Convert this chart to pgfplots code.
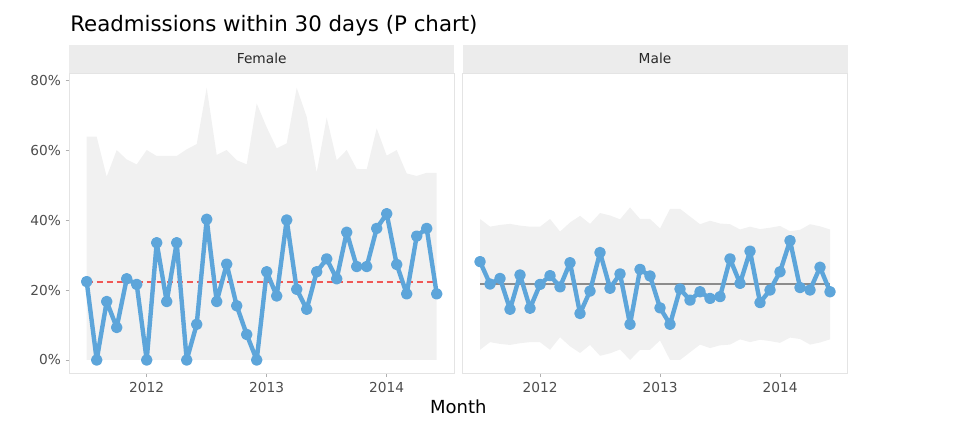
\documentclass[border=0pt]{standalone}
\usepackage{fontspec}
\setmainfont{DejaVu Sans}
\usepackage{pgfplots}
\pgfplotsset{compat=1.18}
\usepackage{pgfplotstable}
\usepgfplotslibrary{fillbetween}
\definecolor{pblue}{RGB}{93,165,218}
\definecolor{cred}{RGB}{240,88,86}
\definecolor{cgray}{RGB}{140,140,140}
\definecolor{ribbon}{RGB}{241,241,241}
\definecolor{stripfill}{RGB}{236,236,236}
\definecolor{panelborder}{RGB}{228,228,228}
\definecolor{tickgray}{RGB}{175,175,175}
\definecolor{ticktext}{RGB}{77,77,77}
\definecolor{striptext}{RGB}{40,40,40}

\pgfplotstableread{
i p ucl lcl
0 22.4 63.8 0
1 0 63.8 0
2 16.7 52.4 0
3 9.3 60.0 0
4 23.2 57.3 0
5 21.6 55.9 0
6 0 60.0 0
7 33.5 58.3 0
8 16.7 58.3 0
9 33.5 58.3 0
10 0 60.2 0
11 10.2 61.7 0
12 40.2 77.8 0
13 16.7 58.6 0
14 27.4 60.0 0
15 15.5 57.1 0
16 7.3 55.9 0
17 0 73.3 0
18 25.2 66.5 0
19 18.3 60.5 0
20 40.0 61.9 0
21 20.2 77.8 0
22 14.5 69.5 0
23 25.2 53.6 0
24 28.9 69.3 0
25 23.2 57.1 0
26 36.5 60.0 0
27 26.7 54.6 0
28 26.7 54.5 0
29 37.6 66.2 0
30 41.8 58.4 0
31 27.3 60.0 0
32 18.9 53.3 0
33 35.4 52.6 0
34 37.6 53.5 0
35 18.9 53.5 0
}\female

\pgfplotstableread{
i p ucl lcl
0 28.1 40.3 2.9
1 21.7 38.1 5.1
2 23.3 38.6 4.6
3 14.5 38.9 4.3
4 24.3 38.4 4.8
5 14.8 38.1 5.1
6 21.6 38.1 5.1
7 24.1 40.3 2.9
8 20.9 36.7 6.5
9 27.8 39.3 3.9
10 13.3 41.2 2.0
11 19.7 38.9 4.3
12 30.7 42.0 1.2
13 20.5 41.3 1.9
14 24.6 40.2 3.0
15 10.2 43.6 0
16 25.9 40.3 2.9
17 24.0 40.3 2.9
18 14.9 37.6 5.6
19 10.2 43.2 0
20 20.3 43.2 0
21 17.1 41.0 2.2
22 19.5 38.8 4.4
23 17.6 39.8 3.4
24 18.1 39.0 4.2
25 28.9 38.8 4.4
26 21.9 37.3 5.9
27 31.1 38.1 5.1
28 16.4 37.4 5.8
29 20.0 37.8 5.4
30 25.2 38.3 4.9
31 34.1 36.8 6.4
32 20.7 37.2 6.0
33 20.0 38.8 4.4
34 26.5 38.2 5.0
35 19.5 37.3 5.9
}\male

\pgfplotsset{pchart/.style={
  scale only axis, width=288.75pt, height=225.2pt,
  anchor=south west,
  xmin=-1.75, xmax=36.75, ymin=-3.9, ymax=81.9,
  axis line style={draw=panelborder, line width=0.6pt},
  xtick={6,18,30}, xticklabels={2012,2013,2014},
  xtick pos=bottom, ytick pos=left,
  tick align=outside, major tick length=2.7pt,
  tick style={draw=tickgray, line width=0.6pt},
  tick label style={font=\fontsize{10.3}{12}\selectfont, text=ticktext},
}}

\begin{document}
\begin{tikzpicture}[x=0.75pt,y=0.75pt]
\node[anchor=base west, font=\fontsize{16}{19}\selectfont, inner sep=0pt] at (70,395.3) {Readmissions within 30 days (P chart)};
\fill[stripfill] (69.2,353.65) rectangle (454.2,382);
\node[anchor=base, font=\fontsize{10.3}{12}\selectfont, text=striptext, inner sep=0pt] at (261.7,363) {Female};
\fill[stripfill] (462.5,353.65) rectangle (847.5,382);
\node[anchor=base, font=\fontsize{10.3}{12}\selectfont, text=striptext, inner sep=0pt] at (655,363) {Male};

\begin{axis}[pchart, at={(51.9pt,40.01pt)},
  ytick={0,20,40,60,80}, yticklabels={0\%,20\%,40\%,60\%,80\%}]
\addplot[name path=fu, draw=none] table[x=i, y=ucl] {\female};
\addplot[name path=fl, draw=none] table[x=i, y=lcl] {\female};
\addplot[fill=ribbon, draw=none] fill between[of=fu and fl];
\addplot[draw=cred, color=cred, line width=1.35pt, dash pattern=on 4.5pt off 3pt, mark=none] coordinates {(0,22.4) (35,22.4)};
\addplot[draw=pblue, line width=3.3pt, line join=round, line cap=round, mark=*, mark size=2.65pt, mark options={solid, fill=pblue, draw=none}] table[x=i, y=p] {\female};
\end{axis}

\begin{axis}[pchart, at={(346.9pt,40.01pt)}, ytick=\empty]
\addplot[name path=mu, draw=none] table[x=i, y=ucl] {\male};
\addplot[name path=ml, draw=none] table[x=i, y=lcl] {\male};
\addplot[fill=ribbon, draw=none] fill between[of=mu and ml];
\addplot[draw=cgray, color=cgray, line width=1.6pt, mark=none] coordinates {(0,21.6) (35,21.6)};
\addplot[draw=pblue, line width=3.3pt, line join=round, line cap=round, mark=*, mark size=2.65pt, mark options={solid, fill=pblue, draw=none}] table[x=i, y=p] {\male};
\end{axis}

\node[anchor=base, font=\fontsize{13.5}{16}\selectfont, inner sep=0pt] at (458.3,13.7) {Month};
\pgfresetboundingbox
\path[use as bounding box] (0,0) rectangle (960,427);
\end{tikzpicture}
\end{document}
